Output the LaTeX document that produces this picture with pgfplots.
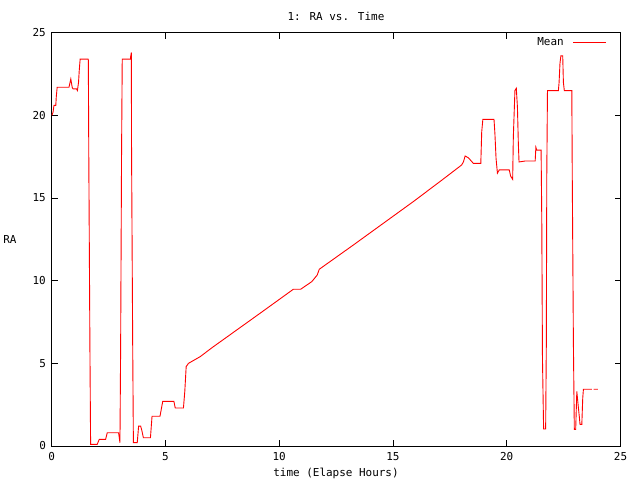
\documentclass[border=0pt]{standalone}
\usepackage{fontspec}
\setmainfont{DejaVu Sans Mono}
\usepackage{pgfplots}
\pgfplotsset{compat=1.18}
\begin{document}
\fontsize{11}{13}\selectfont
\begin{tikzpicture}
\useasboundingbox (0,0) rectangle (640bp,480bp);
\begin{axis}[
  at={(51.7bp,34bp)}, anchor=south west,
  scale only axis, width=568.8bp, height=413.3bp,
  xmin=0, xmax=25, ymin=0, ymax=25,
  xtick={0,5,...,25}, ytick={0,5,...,25},
  tick align=inside, tick pos=both, major tick length=6bp,
  axis line style={line width=0.8bp},
  every tick/.style={black, line width=0.8bp},
  /pgf/number format/assume math mode=true,
  ticklabel style={font=\fontsize{11}{13}\selectfont},
  xticklabel style={yshift=-3bp},
  yticklabel style={xshift=-2bp},
  unbounded coords=jump,
  legend style={draw=none, fill=none, at={(0.976,0.977)}, anchor=east,
    inner sep=0pt, font=\fontsize{11}{13}\selectfont},
  legend cell align=right,
  legend plot pos=right,
  legend image code/.code={\path (0bp,0bp); \draw[#1] (7bp,0bp) -- (40bp,0bp);},
]
\addplot[red, line width=0.9bp] coordinates {
(0.01,20.0) (0.06,20.2) (0.10,20.6) (0.18,20.6) (0.20,21.1) (0.24,21.7)
(0.76,21.7) (0.84,22.2) (0.90,21.7) (0.94,21.6) (1.09,21.6) (1.13,21.5)
(1.18,22.0) (1.21,22.7) (1.25,23.4) (1.60,23.4) (1.61,23.35)
(1.63,17.6) (1.68,5.9) (1.71,0.1) (2.00,0.1) (2.09,0.4) (2.37,0.4)
(2.44,0.8) (2.94,0.8) (3.00,0.2) (3.03,6.0) (3.07,17.6) (3.10,23.4)
(3.46,23.4) (3.47,23.55) (3.50,23.8) (3.51,17.8) (3.56,6.1) (3.59,0.2)
(3.76,0.2) (3.82,1.2) (3.91,1.2) (3.96,0.95) (4.03,0.5) (4.34,0.5)
(4.41,1.8) (4.76,1.8) (4.88,2.7) (5.37,2.7) (5.43,2.3) (5.79,2.3)
(5.85,3.3) (5.91,4.8) (6.01,5.0) (6.52,5.4) (7.10,6.0) (9.16,8.03)
(10.62,9.48) (10.94,9.48) (11.43,9.94) (11.67,10.34) (11.76,10.69)
(13.26,12.16) (15.89,14.78) (17.07,16.0) (18.02,17.0) (18.10,17.2)
(18.17,17.54) (18.31,17.44) (18.53,17.1) (18.86,17.1) (18.90,19.0)
(18.95,19.76) (19.44,19.76) (19.48,18.9) (19.53,17.4) (19.59,16.5)
(19.67,16.7) (20.11,16.7) (20.17,16.33) (20.26,16.13) (20.29,18.7)
(20.36,21.5) (20.42,21.64) (20.47,20.5) (20.51,18.3) (20.54,17.18)
(20.81,17.24) (21.25,17.24) (21.28,18.07) (21.32,17.9) (21.51,17.9)
(21.54,13.67) (21.57,5.3) (21.62,1.03) (21.71,1.03) (21.74,6.2)
(21.76,16.4) (21.79,21.5) (22.27,21.5) (22.30,21.98) (22.34,23.15)
(22.38,23.6) (22.46,23.6) (22.49,22.0) (22.53,21.5) (22.86,21.5)
(22.88,16.33) (22.93,6.2) (22.97,1.0) (23.03,1.0) (23.08,3.3)
(23.12,2.72) (23.19,1.77) (23.22,1.31) (23.30,1.31) (23.34,2.89)
(23.37,3.43) (23.74,3.43) (23.78,nan) (23.82,3.43) (24.01,3.43)
};
\addlegendentry{Mean}
\end{axis}
\node at (336bp,464bp) {1: RA vs. Time};
\node at (336bp,7bp) {time (Elapse Hours)};
\node at (10bp,240bp) {RA};
\end{tikzpicture}
\end{document}
